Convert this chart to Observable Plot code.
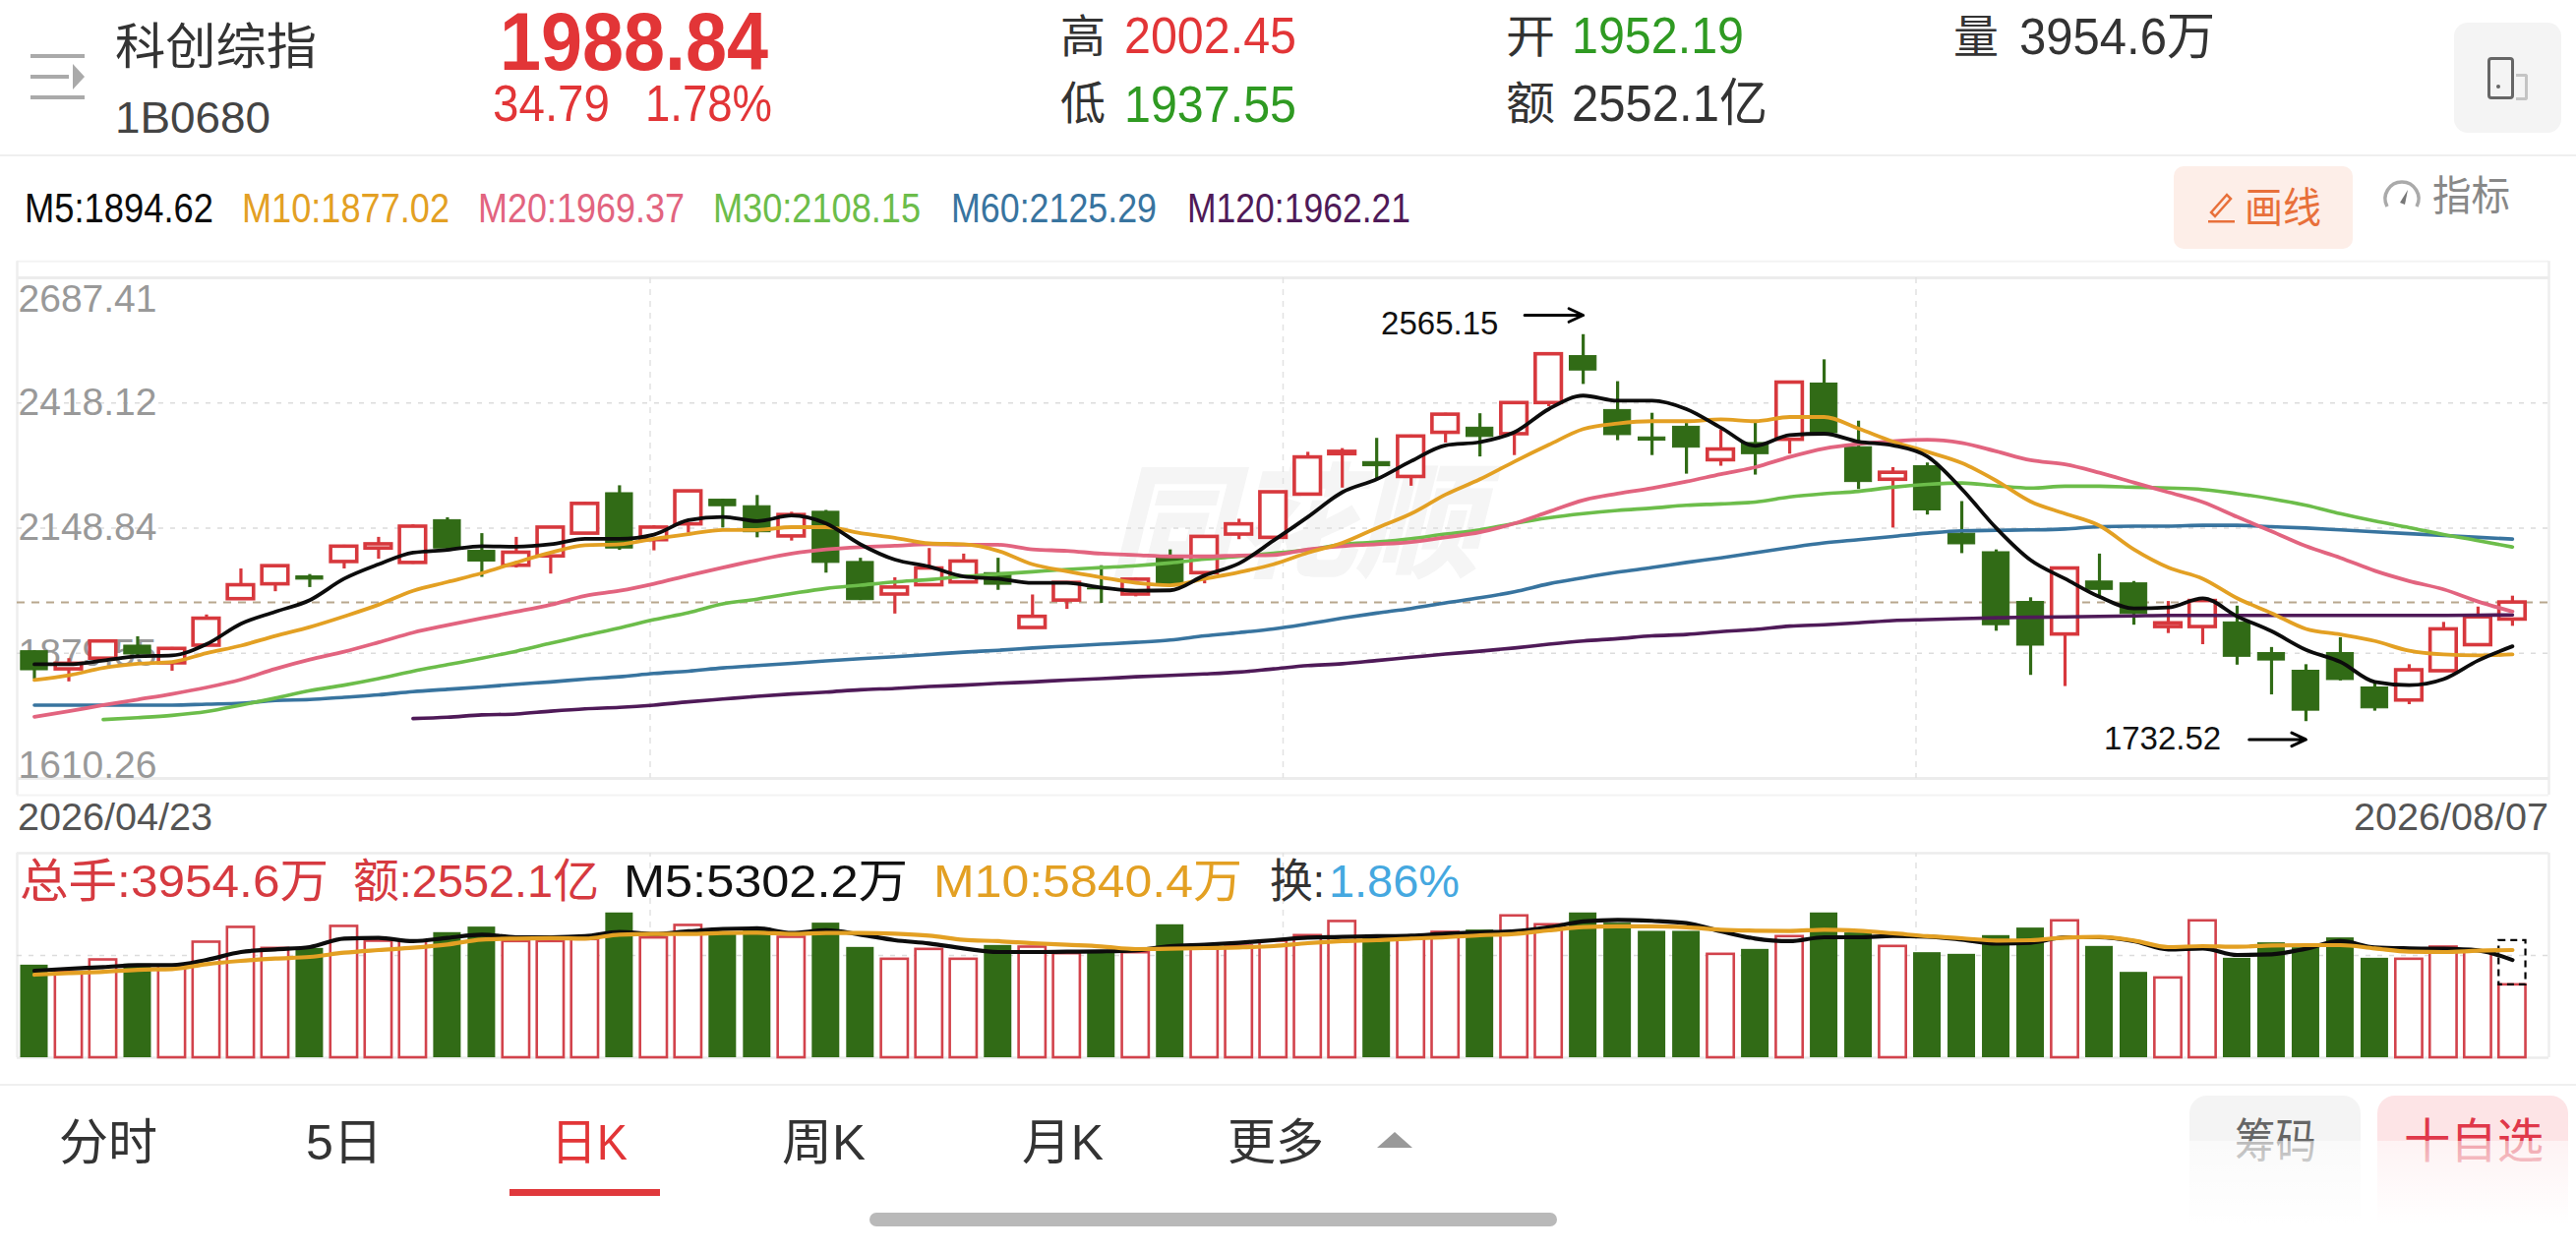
<!DOCTYPE html>
<html><head><meta charset="utf-8">
<script src="https://cdn.jsdelivr.net/npm/d3@7"></script>
<script src="https://cdn.jsdelivr.net/npm/@observablehq/plot@0.6"></script>
<style>
html,body{margin:0;padding:0;background:#fff;width:2619px;height:1272px;overflow:hidden}
#page{position:relative;width:2619px;height:1272px;font-family:"Liberation Sans","Noto Sans CJK SC",sans-serif}
#page>*{position:absolute}
.t{white-space:pre;transform-origin:left center}
</style></head><body><div id="page"></div>
<script>
const opens=[1884,1845,1868,1896,1858,1896,1996,2028,2045,2076,2105,2074,2166,2100,2068,2088,2137,2224,2123,2157,2210,2196,2131,2184,2076,2006,2026,2032,2052,1934,1993,2019,2006,2086,2052,2135,2128,2221,2308,2291,2259,2354,2365,2351,2418,2519,2403,2344,2367,2295,2332,2339,2460,2323,2253,2282,2137,2097,1990,1920,2034,2030,1936,1936,1946,1880,1842,1880,1806,1778,1841,1897,1952.19];
const closes=[1843,1857,1905,1877,1889,1954,2026,2067,2038,2109,2114,2152,2105,2077,2096,2150,2201,2105,2150,2228,2196,2140,2177,2074,1994,2021,2062,2077,2027,1958,2031,2017,2038,2027,2130,2157,2226,2301,2313,2282,2346,2393,2345,2418,2523,2488,2349,2337,2322,2318,2308,2462,2353,2248,2268,2187,2114,1940,1896,2062,2016,1964,1944,1992,1872,1864,1756,1822,1761,1843,1931,1957,1988.84];
const highs=[1885,1868,1906,1915,1892,1962,2061,2068,2049,2112,2129,2156,2171,2137,2129,2152,2204,2240,2154,2229,2211,2219,2183,2187,2084,2042,2105,2093,2084,2005,2033,2068,2042,2102,2131,2168,2228,2312,2320,2342,2349,2396,2395,2420,2525,2565.15,2464,2396,2374,2360,2377,2464,2511,2379,2279,2289,2206,2102,1999,2064,2093,2034,1991,1994,1981,1892,1855,1913,1815,1855,1946,1979,2002.45];
const lows=[1824,1818,1866,1871,1841,1895,1994,2012,2021,2061,2082,2071,2103,2043,2063,2050,2135,2101,2100,2138,2149,2128,2121,2052,1993,1964,2024,2031,2015,1932,1974,1987,2001,2026,2029,2124,2126,2219,2235,2254,2239,2332,2302,2305,2410,2458,2337,2305,2265,2282,2263,2308,2349,2232,2149,2177,2094,1927,1832,1808,2000,1940,1922,1898,1854,1790,1732.52,1820,1755,1769,1839,1896,1937.55];
const ma5=[1856,1856,1864,1873,1875,1899,1943,1969,1994,2040,2071,2096,2102,2110,2109,2114,2126,2126,2135,2166,2173,2164,2176,2159,2114,2081,2066,2045,2040,2031,2031,2021,2014,2015,2047,2073,2122,2173,2226,2254,2293,2327,2334,2355,2405,2434,2423,2423,2405,2365,2326,2349,2352,2335,2327,2303,2233,2149,2080,2040,2001,1976,1978,1998,1959,1927,1887,1861,1818,1811,1824,1864,1894.62];
const ma10=[1822,1832,1848,1857,1861,1880,1896,1917,1936,1959,1984,2014,2033,2052,2075,2096,2112,2114,2126,2136,2145,2145,2151,2151,2138,2128,2116,2114,2100,2071,2056,2043,2031,2026,2040,2054,2071,2096,2117,2149,2180,2221,2254,2292,2328,2362,2374,2379,2379,2383,2379,2388,2388,2363,2335,2313,2289,2251,2206,2180,2154,2103,2064,2040,1998,1966,1932,1920,1906,1885,1877,1875,1877.02];
const ma20=[1743,1755,1768,1780,1792,1806,1823,1846,1866,1883,1903,1924,1940,1955,1969,1984,2003,2014,2029,2047,2064,2080,2094,2103,2108,2111,2114,2113,2113,2103,2100,2094,2091,2088,2088,2090,2091,2103,2110,2114,2119,2129,2140,2159,2184,2209,2223,2235,2249,2265,2280,2302,2320,2330,2336,2339,2332,2314,2295,2286,2268,2247,2226,2205,2173,2142,2110,2085,2057,2035,2017,1991,1969.37];
const ma30=[null,null,1737,1741,1746,1754,1768,1783,1799,1811,1825,1841,1855,1869,1884,1901,1918,1934,1952,1967,1986,1996,2008,2019,2026,2033,2038,2045,2050,2055,2060,2064,2068,2074,2082,2088,2095,2102,2114,2119,2126,2136,2145,2159,2171,2180,2187,2192,2198,2201,2205,2216,2223,2228,2237,2243,2246,2240,2235,2239,2239,2237,2235,2232,2223,2212,2198,2180,2164,2150,2135,2122,2108.15];
const ma60=[1768,1768,1768,1768,1768,1770,1772,1778,1780,1785,1790,1797,1802,1807,1813,1818,1824,1829,1836,1841,1848,1853,1858,1863,1868,1872,1877,1882,1886,1891,1895,1899,1903,1908,1917,1924,1932,1943,1955,1966,1976,1988,1999,2012,2029,2042,2054,2064,2075,2085,2096,2107,2117,2124,2131,2138,2143,2144,2145,2147,2152,2153,2153,2155,2155,2152,2149,2145,2141,2137,2133,2129,2125.29];
const ma120=[null,null,null,null,null,null,null,null,null,null,null,1739,1742,1747,1749,1755,1760,1763,1768,1775,1781,1787,1792,1796,1801,1804,1808,1811,1815,1818,1822,1825,1829,1832,1835,1839,1846,1853,1857,1864,1871,1878,1884,1891,1899,1906,1911,1917,1920,1926,1931,1938,1941,1945,1950,1952,1954,1956,1957,1958,1959,1960,1961,1961,1961,1961,1961,1961,1961,1961,1961,1961.5,1962.21];
const volumes=[5022,4631,5307,5076,4987,6269,7071,5931,5931,7124,6323,6323,6786,7088,6305,6305,6412,7854,6501,7177,6768,7035,6536,7302,5984,5343,5877,5343,6091,6002,5646,5699,5699,7213,5966,6055,6323,6625,7391,6501,6501,6803,6928,7694,7213,7854,7302,6857,6857,5610,5877,6572,7854,6768,6038,5699,5610,6625,7035,7427,6038,4631,4328,7427,5396,6234,5966,6501,5396,5343,6002,5788,3954.6];
const volMa5=[4720,4827,4916,5022,5022,5307,5735,5877,6002,6465,6501,6323,6501,6679,6536,6536,6590,6821,6714,6857,6982,7017,6768,6910,6679,6376,6198,5931,5735,5735,5753,5770,5824,6055,6127,6234,6376,6518,6554,6590,6625,6732,6803,6857,7071,7391,7480,7427,7302,6857,6465,6323,6536,6536,6608,6572,6412,6198,6234,6536,6536,6323,5877,5931,5575,5610,5913,6323,5984,5931,5913,5824,5302.2];
const volMa10=[4506,4595,4666,4773,4809,5076,5254,5379,5468,5699,5842,5966,6144,6412,6465,6483,6465,6679,6714,6714,6768,6786,6714,6768,6768,6732,6625,6394,6323,6216,6127,6038,5895,5913,5949,5984,6055,6216,6323,6376,6465,6536,6643,6714,6910,7088,7124,7124,7071,6946,6892,6875,6946,6892,6750,6590,6483,6358,6376,6518,6554,6358,6002,6055,6020,6091,6109,6109,5931,5753,5735,5806,5840.4];
const ghostVolume=[6358];
const priceTicks=[2687.41,2418.12,2148.84,1879.55,1610.26];
const priceTickLabels=["2687.41","2418.12","2148.84","1879.55","1610.26"];
const lastClose=[1988.84];
const maColors={ma5:"#0c0c0c",ma10:"#e3a023",ma20:"#e2647f",ma30:"#6cbd4a",ma60:"#38749f",ma120:"#4f1a58"};
const UP="#d7383d",DOWN="#316b16";

const n=opens.length, idx=d3.range(n);
const candles=idx.map(i=>({i,o:opens[i],c:closes[i],h:highs[i],l:lows[i],v:volumes[i],up:closes[i]>=opens[i]}));
const seriesRows=a=>idx.map(i=>({i,v:a[i]})).filter(d=>d.v!=null);
const xDomain=[-0.5,73.06];
const xGrid=[-0.5,17.89,36.28,54.67,73.06];
const page=document.getElementById("page");
const W=2619;

function line(a,color,sw){return Plot.line(seriesRows(a),{x:"i",y:"v",stroke:color,strokeWidth:sw,curve:"monotone-x"});}

const price=Plot.plot({
  width:W,height:560,marginLeft:17,marginRight:28,marginTop:22,marginBottom:29,
  x:{domain:xDomain,axis:null},y:{domain:[1610.26,2687.41],axis:null},
  style:{background:"transparent",overflow:"visible"},
  marks:[
    Plot.text(["同花顺"],{x:36.6,y:2149,text:d=>d,fontSize:126,fontWeight:"900",fontStyle:"italic",fontFamily:"Noto Sans CJK SC",fill:"#f5f5f5",letterSpacing:"14px"}),
    Plot.ruleY([2722.7,1574.3],{stroke:"#f3f3f3",strokeWidth:2}),
    Plot.ruleY([2687.41,1610.26],{stroke:"#ececec",strokeWidth:3}),
    Plot.ruleX([xGrid[0],xGrid[4]],{y1:2722.7,y2:1574.3,stroke:"#eeeeee",strokeWidth:2.5}),
    Plot.ruleX(xGrid.slice(1,4),{y1:2687.41,y2:1610.26,stroke:"#e2e2e2",strokeWidth:1.5,strokeDasharray:"6,6"}),
    Plot.ruleY(priceTicks.slice(1,4),{stroke:"#dcdcdc",strokeWidth:1.5,strokeDasharray:"5,7"}),
    Plot.text(priceTicks.slice(1,4),{x:-0.5,y:d=>d,text:d=>priceTickLabels[priceTicks.indexOf(d)],textAnchor:"start",dx:1,fontSize:39,fill:"#999",fontFamily:"Liberation Sans"}),
    Plot.text([priceTicks[0]],{x:-0.5,y:d=>d,text:d=>priceTickLabels[0],textAnchor:"start",dx:1,dy:22,fontSize:39,fill:"#999",fontFamily:"Liberation Sans"}),
    Plot.text([priceTicks[4]],{x:-0.5,y:d=>d,text:d=>priceTickLabels[4],textAnchor:"start",dx:1,dy:-13,fontSize:39,fill:"#999",fontFamily:"Liberation Sans"}),
    Plot.ruleY(lastClose,{stroke:"#b8a78e",strokeWidth:2,strokeDasharray:"8,7"}),
    Plot.ruleX(candles,{x:"i",y1:"l",y2:"h",stroke:d=>d.up?UP:DOWN,strokeWidth:3.2}),
    Plot.rect(candles.filter(d=>d.up),{x1:d=>d.i-0.38,x2:d=>d.i+0.38,y1:"o",y2:"c",fill:"#fff",stroke:UP,strokeWidth:3.6}),
    Plot.rect(candles.filter(d=>!d.up),{x1:d=>d.i-0.39,x2:d=>d.i+0.39,y1:"o",y2:"c",fill:DOWN,stroke:DOWN,strokeWidth:1}),
    line(ma120,maColors.ma120,3.6),
    line(ma60,maColors.ma60,3.6),
    line(ma30,maColors.ma30,3.6),
    line(ma20,maColors.ma20,3.8),
    line(ma10,maColors.ma10,3.8),
    line(ma5,maColors.ma5,3.8),
    Plot.text([{x:40.83,y:2588,t:"2565.15"},{x:61.83,y:1694,t:"1732.52"}],{x:"x",y:"y",text:"t",fontSize:33,fill:"#111",fontFamily:"Liberation Sans"}),
    Plot.arrow([{x1:43.3,x2:45,y:2607},{x1:64.35,x2:66,y:1694}],{x1:"x1",x2:"x2",y1:"y",y2:"y",stroke:"#000",strokeWidth:3,bend:0,headLength:8,headAngle:50})
  ]
});
price.style.cssText+=";position:absolute;left:0;top:260px";
page.appendChild(price);

const volume=Plot.plot({
  width:W,height:220,marginLeft:17,marginRight:28,marginTop:7,marginBottom:5,
  x:{domain:xDomain,axis:null},y:{domain:[0,11096],axis:null},
  style:{background:"transparent",overflow:"visible"},
  marks:[
    Plot.ruleY([11096,0],{stroke:"#ececec",strokeWidth:2.5}),
    Plot.ruleX([xGrid[0],xGrid[4]],{y1:0,y2:11096,stroke:"#eeeeee",strokeWidth:2.5}),
    Plot.ruleX(xGrid.slice(1,4),{y1:0,y2:11096,stroke:"#e2e2e2",strokeWidth:1.5,strokeDasharray:"6,6"}),
    Plot.ruleY([5548],{stroke:"#dcdcdc",strokeWidth:1.5,strokeDasharray:"5,7"}),
    Plot.rect(candles.filter(d=>!d.up),{x1:d=>d.i-0.4,x2:d=>d.i+0.4,y1:0,y2:"v",fill:DOWN}),
    Plot.rect(candles.filter(d=>d.up),{x1:d=>d.i-0.39,x2:d=>d.i+0.39,y1:0,y2:"v",fill:"#fff",stroke:"#d2434c",strokeWidth:2.6}),
    Plot.rect(ghostVolume.map(v=>({i:n-1,a:volumes[n-1],b:v})),{x1:d=>d.i-0.39,x2:d=>d.i+0.39,y1:"a",y2:"b",fill:"none",stroke:"#000",strokeWidth:2.2,strokeDasharray:"7,5"}),
    line(volMa5,maColors.ma5,4.2),
    line(volMa10,maColors.ma10,4.2)
  ]
});
volume.style.cssText+=";position:absolute;left:0;top:860px";
page.appendChild(volume);

function box(x,y,w,h,css){const e=document.createElement("div");e.style.cssText=`left:${x}px;top:${y}px;width:${w}px;height:${h}px;${css||""}`;page.appendChild(e);return e;}
function label(text,x1,x2,yc,size,color,weight){
  const e=document.createElement("div");e.className="t";e.textContent=text;
  const lh=Math.round(size*0.9);
  e.style.cssText=`left:${x1}px;top:${yc-lh/2}px;line-height:${lh}px;font-size:${size}px;color:${color};font-weight:${weight||400}`;
  page.appendChild(e);
  const w=e.getBoundingClientRect().width;
  e.style.transform=`scaleX(${(x2-x1)/w})`;
  return e;
}
const RED="#e23537",GRN="#2f9a22",INK="#333";
box(0,157,W,2,"background:#efefef");
box(0,1102,W,2,"background:#efefef");
const ic=document.createElement("div");ic.style.cssText="left:0;top:0";ic.innerHTML='<svg width="100" height="120" style="display:block"><g fill="#aaa"><rect x="31" y="55" width="55" height="4"/><rect x="31" y="76" width="39" height="4"/><rect x="31" y="97" width="55" height="4"/><path d="M74 65L86 78L74 91Z"/></g></svg>';page.appendChild(ic);

label("科创综指",117,322,48,50,INK);
label("1B0680",117,275,119,45,"#444");
label("1988.84",508,781,42,84,RED,700);
label("34.79",501,620,105,52,RED,400);
label("1.78%",656,785,105,52,RED,400);
label("高",1078,1124,37,46,INK);
label("2002.45",1143,1318,36,52,RED);
label("低",1078,1124,105,46,INK);
label("1937.55",1143,1318,106,52,GRN);
label("开",1531,1581,37,46,INK);
label("1952.19",1598,1773,36,52,GRN);
label("量",1986,2032,37,46,INK);
label("3954.6万",2053,2252,37,52,INK);
label("额",1531,1581,105,46,INK);
label("2552.1亿",1598,1797,105,52,INK);

box(2495,23,109,112,"background:#f4f4f4;border-radius:14px");
box(2529,58,21,37,"border:3px solid #666;border-radius:4px");
box(2538,86,4,4,"background:#666;border-radius:50%");
box(2558,75,9,21,"border:3px solid #c4c4c4;border-left:none;border-radius:0 3px 3px 0");

label("M5:1894.62",25,217,212,42,maColors.ma5);
label("M10:1877.02",246,457,212,42,maColors.ma10);
label("M20:1969.37",486,696,212,42,maColors.ma20);
label("M30:2108.15",725,936,212,42,maColors.ma30);
label("M60:2125.29",967,1176,212,42,maColors.ma60);
label("M120:1962.21",1207,1434,212,42,maColors.ma120);

box(2210,169,182,84,"background:#fdeee8;border-radius:10px");
const pen=document.createElement("div");pen.style.cssText="left:2240px;top:190px";pen.innerHTML='<svg width="36" height="40" style="display:block"><path d="M8 26L24 8L28 12L12 30Z" fill="none" stroke="#e8703a" stroke-width="2.5"/><rect x="5" y="34" width="27" height="2.5" fill="#e8703a"/></svg>';page.appendChild(pen);
label("画线",2282,2360,212,42,"#e8703a");
const gauge=document.createElement("div");gauge.style.cssText="left:2418px;top:180px";gauge.innerHTML='<svg width="48" height="36" style="display:block"><path d="M9 30A17 17 0 1 1 39 30" fill="none" stroke="#aaa" stroke-width="3.5"/><path d="M22 26L30 13L27 28Z" fill="#777"/></svg>';page.appendChild(gauge);
label("指标",2473,2552,200,42,"#888");

label("2026/04/23",18,216,830,39,"#555");
label("2026/08/07",2393,2591,830,39,"#555");

label("总手:3954.6万",20,334,896,47,"#d63a40");
label("额:2552.1亿",359,609,896,47,"#d63a40");
label("M5:5302.2万",634,923,896,47,"#111");
label("M10:5840.4万",949,1263,896,47,"#e3a023");
label("换:",1291,1347,896,47,INK);
label("1.86%",1351,1484,896,47,"#45a8e0");

label("分时",60,160,1162,50,INK);
label("5日",311,389,1162,50,INK);
label("日K",560,638,1162,50,RED);
label("周K",795,880,1162,50,INK);
label("月K",1039,1122,1162,50,INK);
label("更多",1248,1346,1162,50,INK);
const tri=document.createElement("div");tri.style.cssText="left:1400px;top:1150px";tri.innerHTML='<svg width="36" height="18" style="display:block"><path d="M0 17L18 1L36 17Z" fill="#999"/></svg>';page.appendChild(tri);
box(518,1209,153,7,"background:#e0383c");
box(884,1233,699,14,"background:#b9b9b9;border-radius:7px");

box(2226,1114,174,150,"background:#f4f4f4;border-radius:18px 18px 0 0");
box(2417,1114,194,150,"background:#fde4e6;border-radius:18px 18px 0 0");
label("筹码",2272,2355,1160,48,"#666");
label("十自选",2444,2586,1160,48,"#e0384a");
box(2180,1160,439,112,"background:linear-gradient(to bottom,rgba(255,255,255,.55),#fff 75%)");
</script></body></html>
